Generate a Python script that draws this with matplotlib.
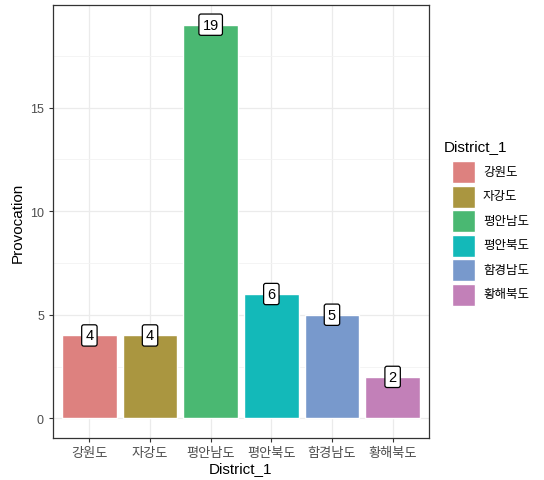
import matplotlib
matplotlib.use("Agg")
import matplotlib.pyplot as plt
from matplotlib.patches import Rectangle
import numpy as np

plt.rcParams['font.family'] = ['Liberation Sans', 'Noto Sans CJK KR', 'DejaVu Sans']

districts = ["강원도", "자강도", "평안남도", "평안북도", "함경남도", "황해북도"]
provocation = [4, 4, 19, 6, 5, 2]
bar_colors = ["#DD817F", "#AA9640", "#4AB872", "#13B9B9", "#7899CC", "#C280B8"]

W, H = 544, 481
fig = plt.figure(figsize=(W / 100, H / 100), dpi=100)
ax = fig.add_axes([53/W, (H-439)/H, 376/W, 433/H])

x = np.arange(1, len(districts) + 1)
ax.bar(x, provocation, width=0.9, color=bar_colors, edgecolor="white", linewidth=1.0, zorder=2)

for xi, v in zip(x, provocation):
    ax.text(xi, v, str(v), ha="center", va="center", fontsize=10.5, color="black", zorder=4,
            bbox=dict(boxstyle="round,pad=0.25,rounding_size=0.15", facecolor="white",
                      edgecolor="black", linewidth=0.9))

ax.set_xlim(0.4, 6.6)
ax.set_ylim(-0.95, 19.95)
ax.set_xticks(x)
ax.set_xticklabels(districts, fontsize=9.5)
ax.set_yticks([0, 5, 10, 15])
ax.set_yticks([2.5, 7.5, 12.5, 17.5], minor=True)
ax.grid(which="major", color="#EBEBEB", linewidth=0.9, zorder=0)
ax.grid(which="minor", axis="y", color="#F3F3F3", linewidth=0.6, zorder=0)
ax.set_axisbelow(True)
ax.tick_params(axis="both", which="major", labelcolor="#4D4D4D", color="#333333",
               length=3, width=0.8)
ax.tick_params(axis="y", labelsize=9)
ax.tick_params(axis="both", which="minor", length=0)
for s in ax.spines.values():
    s.set_color("#333333")
    s.set_linewidth(0.9)

ax.set_xlabel("District_1", fontsize=11, labelpad=1)
ax.set_ylabel("Provocation", fontsize=11, labelpad=4)

# legend drawn by hand so the keys get ggplot's size
fig.text(444/W, 1 - 147/H, "District_1", fontsize=11, ha="left", va="center")
for i, (c, d) in enumerate(zip(bar_colors, districts)):
    top = 162 + i * 24.5
    fig.add_artist(Rectangle((452/W, 1 - (top + 22)/H), 23/W, 22/H, transform=fig.transFigure,
                             facecolor=c, edgecolor="white", linewidth=1.0))
    fig.text(483/W, 1 - (top + 11)/H, d, fontsize=9, ha="left", va="center")

fig.savefig("out.png", dpi=100)
